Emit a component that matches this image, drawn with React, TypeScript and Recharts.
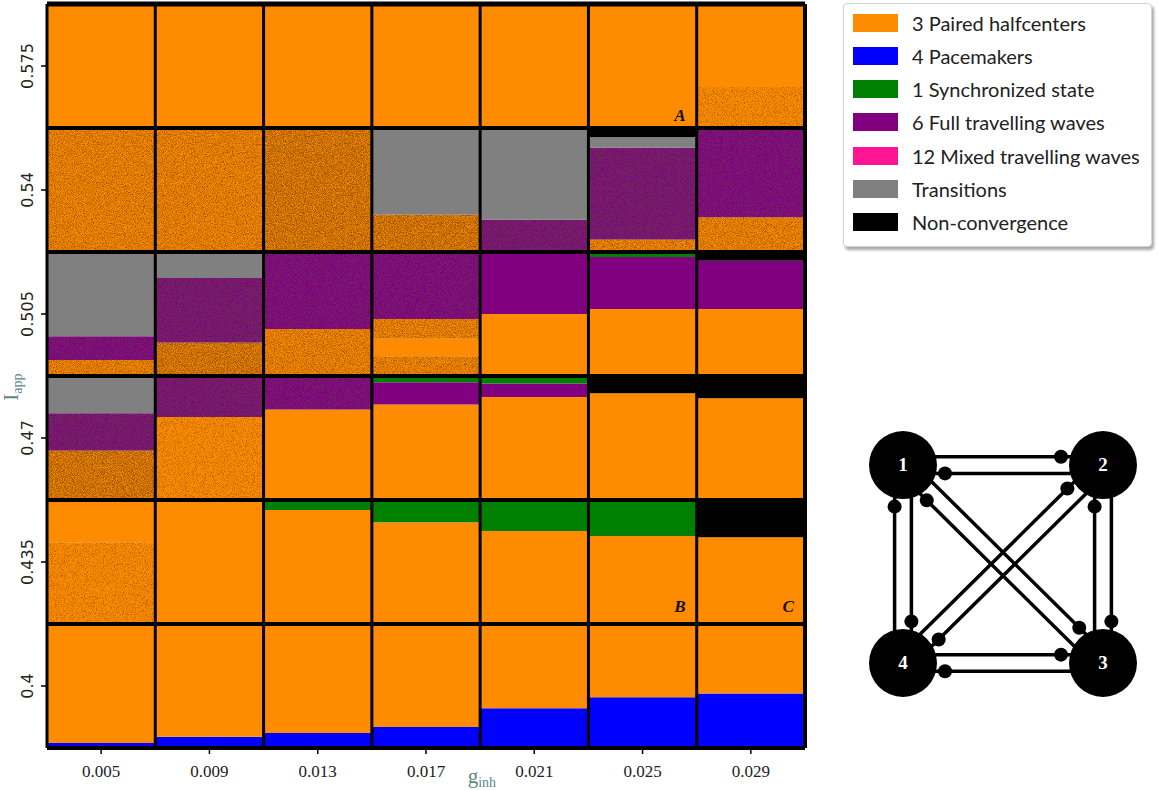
import React from "react";
import {
  BarChart,
  Bar,
  XAxis,
  YAxis,
  Cell,
  ReferenceLine,
  ReferenceDot,
  ScatterChart,
  Scatter,
} from "recharts";

// g_inh categories (columns) and I_app levels (rows, bottom to top)
const gInh = ["0.005", "0.009", "0.013", "0.017", "0.021", "0.025", "0.029"];
const iApp = ["0.4", "0.435", "0.47", "0.505", "0.54", "0.575"];

// states: O paired halfcenters, B pacemakers, S synchronized, P full waves,
// M mixed waves, T transitions, N non-convergence
const stateColors: Record<string, string> = {
  O: "#ff8c00",
  B: "#0000ff",
  S: "#008000",
  P: "#800080",
  M: "#ff1493",
  T: "#808080",
  N: "#000000",
};

// each cell: segments from bottom to top [state, share %, grain]
type Seg = [string, number, number?];
const row0400: Seg[][] = [
  [["B", 4], ["O", 96]],
  [["B", 9], ["O", 91]],
  [["B", 12], ["O", 88]],
  [["B", 17], ["O", 83]],
  [["B", 32], ["O", 68]],
  [["B", 41], ["O", 59]],
  [["B", 44], ["O", 56]],
];
const row0435: Seg[][] = [
  [["O", 66, 1], ["O", 34]],
  [["O", 100]],
  [["O", 92], ["S", 8]],
  [["O", 82], ["S", 18]],
  [["O", 75], ["S", 25]],
  [["O", 71], ["S", 29]],
  [["O", 70], ["N", 30]],
];
const row0470: Seg[][] = [
  [["O", 40, 3], ["P", 30, 2], ["T", 30]],
  [["O", 67, 1], ["P", 33, 2]],
  [["O", 73], ["P", 27, 1]],
  [["O", 77], ["P", 18], ["S", 5]],
  [["O", 83], ["P", 11], ["S", 6]],
  [["O", 86], ["N", 14]],
  [["O", 82], ["N", 18]],
];
const row0505: Seg[][] = [
  [["O", 13, 2], ["P", 19, 1], ["T", 68]],
  [["O", 27, 3], ["P", 52, 2], ["T", 21]],
  [["O", 38, 2], ["P", 62, 1]],
  [["O", 16, 2], ["O", 14], ["O", 16, 2], ["P", 54, 1]],
  [["O", 50], ["P", 50]],
  [["O", 54], ["P", 42], ["S", 4]],
  [["O", 54], ["P", 39], ["N", 7]],
];
const row0540: Seg[][] = [
  [["O", 100, 2]],
  [["O", 100, 2]],
  [["O", 100, 3]],
  [["O", 30, 3], ["T", 70]],
  [["P", 26, 2], ["T", 74]],
  [["O", 10, 2], ["P", 74, 2], ["T", 8.5], ["N", 7.5]],
  [["O", 28, 2], ["P", 72, 1]],
];
const row0575: Seg[][] = [
  [["O", 100]],
  [["O", 100]],
  [["O", 100]],
  [["O", 100]],
  [["O", 100]],
  [["O", 100]],
  [["O", 33, 1], ["O", 67]],
];
const rows = [row0400, row0435, row0470, row0505, row0540, row0575];

const annotations: [string, number, string][] = [
  ["0.025", 5.06, "A"],
  ["0.025", 1.1, "B"],
  ["0.029", 1.1, "C"],
];

const legendLabels = [
  "3 Paired halfcenters",
  "4 Pacemakers",
  "1 Synchronized state",
  "6 Full travelling waves",
  "12 Mixed travelling waves",
  "Transitions",
  "Non-convergence",
];
const legendStates = ["O", "B", "S", "P", "M", "T", "N"];

// network: 4 neurons, all-to-all inhibition
const nodes = [
  { id: "1", x: 0, y: 1 },
  { id: "2", x: 1, y: 1 },
  { id: "3", x: 1, y: 0 },
  { id: "4", x: 0, y: 0 },
];

const chartData = gInh.map((g, c) => {
  const d: Record<string, any> = { g };
  rows.forEach((row, r) => {
    const n = Math.max(...row.map((cell) => cell.length));
    const cell = row[c];
    const total = cell.reduce((a, s) => a + s[1], 0);
    for (let s = 0; s < n; s++) d[`r${r}s${s}`] = cell[s] ? cell[s][1] / total : 0;
  });
  return d;
});

const links: { a: any; b: any; dot: any }[] = [];
nodes.forEach((p) =>
  nodes.forEach((q) => {
    if (p === q) return;
    const len = Math.hypot(q.x - p.x, q.y - p.y);
    const ux = (q.x - p.x) / len;
    const uy = (q.y - p.y) / len;
    const ox = -uy * 0.042;
    const oy = ux * 0.042;
    links.push({
      a: { x: p.x + ux * 0.15 + ox, y: p.y + uy * 0.15 + oy },
      b: { x: q.x - ux * 0.15 + ox, y: q.y - uy * 0.15 + oy },
      dot: { x: q.x - ux * 0.21 + ox, y: q.y - uy * 0.21 + oy },
    });
  })
);
const synapses = links.map((l) => l.dot);

const YTick = (props: any) => {
  const { x, y, payload } = props;
  return (
    <g transform={`translate(${x - 6},${y})`}>
      <text transform="rotate(-90)" textAnchor="middle" fontFamily="DejaVu Sans" fontSize={16} fill="#222">
        {iApp[Math.floor(payload.value)]}
      </text>
    </g>
  );
};

const XTick = (props: any) => {
  const { x, y, payload } = props;
  return (
    <text x={x} y={y + 21} textAnchor="middle" fontFamily="Liberation Serif" fontSize={17} fill="#222">
      {payload.value}
    </text>
  );
};

const XTitle = (props: any) => {
  const vb = props.viewBox || { x: 47, y: 748, width: 758 };
  return (
    <text x={vb.x + vb.width * 0.555} y={783} fontFamily="Liberation Serif" fontSize={21} fill="#5f8787">
      g<tspan fontSize={14} dy={4}>inh</tspan>
    </text>
  );
};

const YTitle = (props: any) => {
  const vb = props.viewBox || { y: 4, height: 744 };
  return (
    <g transform={`translate(18,${vb.y + vb.height * 0.515})`}>
      <text transform="rotate(-90)" textAnchor="middle" fontFamily="Liberation Serif" fontSize={21} fill="#5f8787">
        I<tspan fontSize={14} dy={4}>app</tspan>
      </text>
    </g>
  );
};

const Grain = ({ id, level, seed }: { id: string; level: number; seed: number }) => (
  <filter id={id} x="0" y="0" width="1" height="1">
    <feTurbulence type="fractalNoise" baseFrequency="1.1" numOctaves={2} seed={seed} result="noise" />
    <feColorMatrix
      in="noise"
      type="matrix"
      values={`0 0 0 0 0.1  0 0 0 0 0.04  0 0 0 0 0  -2.4 0 0 0 ${level}`}
      result="dots"
    />
    <feComponentTransfer in="dots" result="soft">
      <feFuncA type="linear" slope={0.75} intercept={0} />
    </feComponentTransfer>
    <feComposite in="soft" in2="SourceGraphic" operator="in" result="clip" />
    <feMerge>
      <feMergeNode in="SourceGraphic" />
      <feMergeNode in="clip" />
    </feMerge>
  </filter>
);

const App = () => {
  return (
    <div style={{ position: "absolute", left: 0, top: 0, width: 1158, height: 790, background: "#fff" }}>
      <svg width={0} height={0} style={{ position: "absolute" }}>
        <defs>
          <Grain id="grain1" level={1.38} seed={3} />
          <Grain id="grain2" level={1.58} seed={5} />
          <Grain id="grain3" level={1.78} seed={8} />
        </defs>
      </svg>

      <BarChart
        width={820}
        height={790}
        data={chartData}
        margin={{ top: 4, right: 15, left: 0, bottom: 0 }}
        barCategoryGap={0}
        barGap={0}
      >
        <XAxis
          dataKey="g"
          height={42}
          tick={<XTick />}
          tickSize={6}
          tickLine={{ stroke: "#000", strokeWidth: 1.5 }}
          axisLine={false}
          interval={0}
          label={<XTitle />}
        />
        <YAxis
          type="number"
          domain={[0, iApp.length]}
          ticks={iApp.map((_, i) => i + 0.5)}
          width={47}
          tick={<YTick />}
          tickSize={6}
          tickMargin={2}
          tickLine={{ stroke: "#000", strokeWidth: 1.5 }}
          axisLine={false}
          label={<YTitle />}
        />
        {rows.flatMap((row, r) => {
          const n = Math.max(...row.map((cell) => cell.length));
          return Array.from({ length: n }, (_, s) => (
            <Bar key={`r${r}s${s}`} dataKey={`r${r}s${s}`} stackId="grid" isAnimationActive={false}>
              {row.map((cell, c) => {
                const seg = cell[s];
                const grain = seg && seg[2] ? seg[2] : 0;
                return (
                  <Cell
                    key={c}
                    fill={seg ? stateColors[seg[0]] : "none"}
                    filter={grain ? `url(#grain${grain})` : undefined}
                  />
                );
              })}
            </Bar>
          ));
        })}
        {iApp.map((_, i) => (
          <ReferenceLine key={`h${i}`} y={i} stroke="#000" strokeWidth={4} ifOverflow="visible" />
        ))}
        <ReferenceLine y={iApp.length} stroke="#000" strokeWidth={5} ifOverflow="visible" />
        {gInh.map((g) => (
          <ReferenceLine key={`v${g}`} x={g} position="start" stroke="#000" strokeWidth={3} ifOverflow="visible" />
        ))}
        <ReferenceLine x={gInh[gInh.length - 1]} position="end" stroke="#000" strokeWidth={4} ifOverflow="visible" />
        {annotations.map(([g, v, t]) => (
          <ReferenceDot
            key={t}
            x={g}
            y={v}
            r={1}
            ifOverflow="visible"
            shape={(p: any) => (
              <text
                x={p.cx + 43}
                y={p.cy}
                textAnchor="end"
                fontFamily="Liberation Serif"
                fontStyle="italic"
                fontWeight={700}
                fontSize={17}
                fill="#111"
              >
                {t}
              </text>
            )}
          />
        ))}
      </BarChart>

      <div
        style={{
          position: "absolute",
          left: 843,
          top: 3,
          width: 307,
          height: 242,
          border: "1px solid #d4d4d4",
          borderRadius: 4,
          boxShadow: "2px 3px 3px rgba(0,0,0,0.35)",
          background: "#fff",
          fontFamily: "Lato",
          fontSize: 20,
          color: "#222",
        }}
      >
        {legendLabels.map((label, i) => (
          <div
            key={label}
            style={{ position: "absolute", left: 0, top: 2 + i * 33.3, height: 33, display: "flex", alignItems: "center" }}
          >
            <div style={{ width: 45, height: 18, marginLeft: 9, background: stateColors[legendStates[i]] }} />
            <span style={{ marginLeft: 14, whiteSpace: "nowrap" }}>{label}</span>
          </div>
        ))}
      </div>

      <div style={{ position: "absolute", left: 850, top: 415 }}>
        <ScatterChart width={308} height={300} margin={{ top: 0, right: 0, bottom: 0, left: 0 }}>
          <XAxis type="number" dataKey="x" domain={[-0.265, 1.275]} hide height={0} />
          <YAxis type="number" dataKey="y" domain={[-0.263, 1.253]} hide width={0} />
          {links.map((l, i) => (
            <ReferenceLine key={i} segment={[l.a, l.b]} stroke="#000" strokeWidth={3.5} ifOverflow="visible" />
          ))}
          <Scatter
            data={synapses}
            isAnimationActive={false}
            shape={(p: any) => <circle cx={p.cx} cy={p.cy} r={7} fill="#000" />}
          />
          <Scatter
            data={nodes}
            isAnimationActive={false}
            shape={(p: any) => (
              <g>
                <circle cx={p.cx} cy={p.cy} r={34} fill="#000" />
                <text
                  x={p.cx}
                  y={p.cy + 6}
                  textAnchor="middle"
                  fontFamily="Liberation Serif"
                  fontWeight={700}
                  fontSize={19}
                  fill="#fff"
                >
                  {p.payload.id}
                </text>
              </g>
            )}
          />
        </ScatterChart>
      </div>
    </div>
  );
};

export default App;
